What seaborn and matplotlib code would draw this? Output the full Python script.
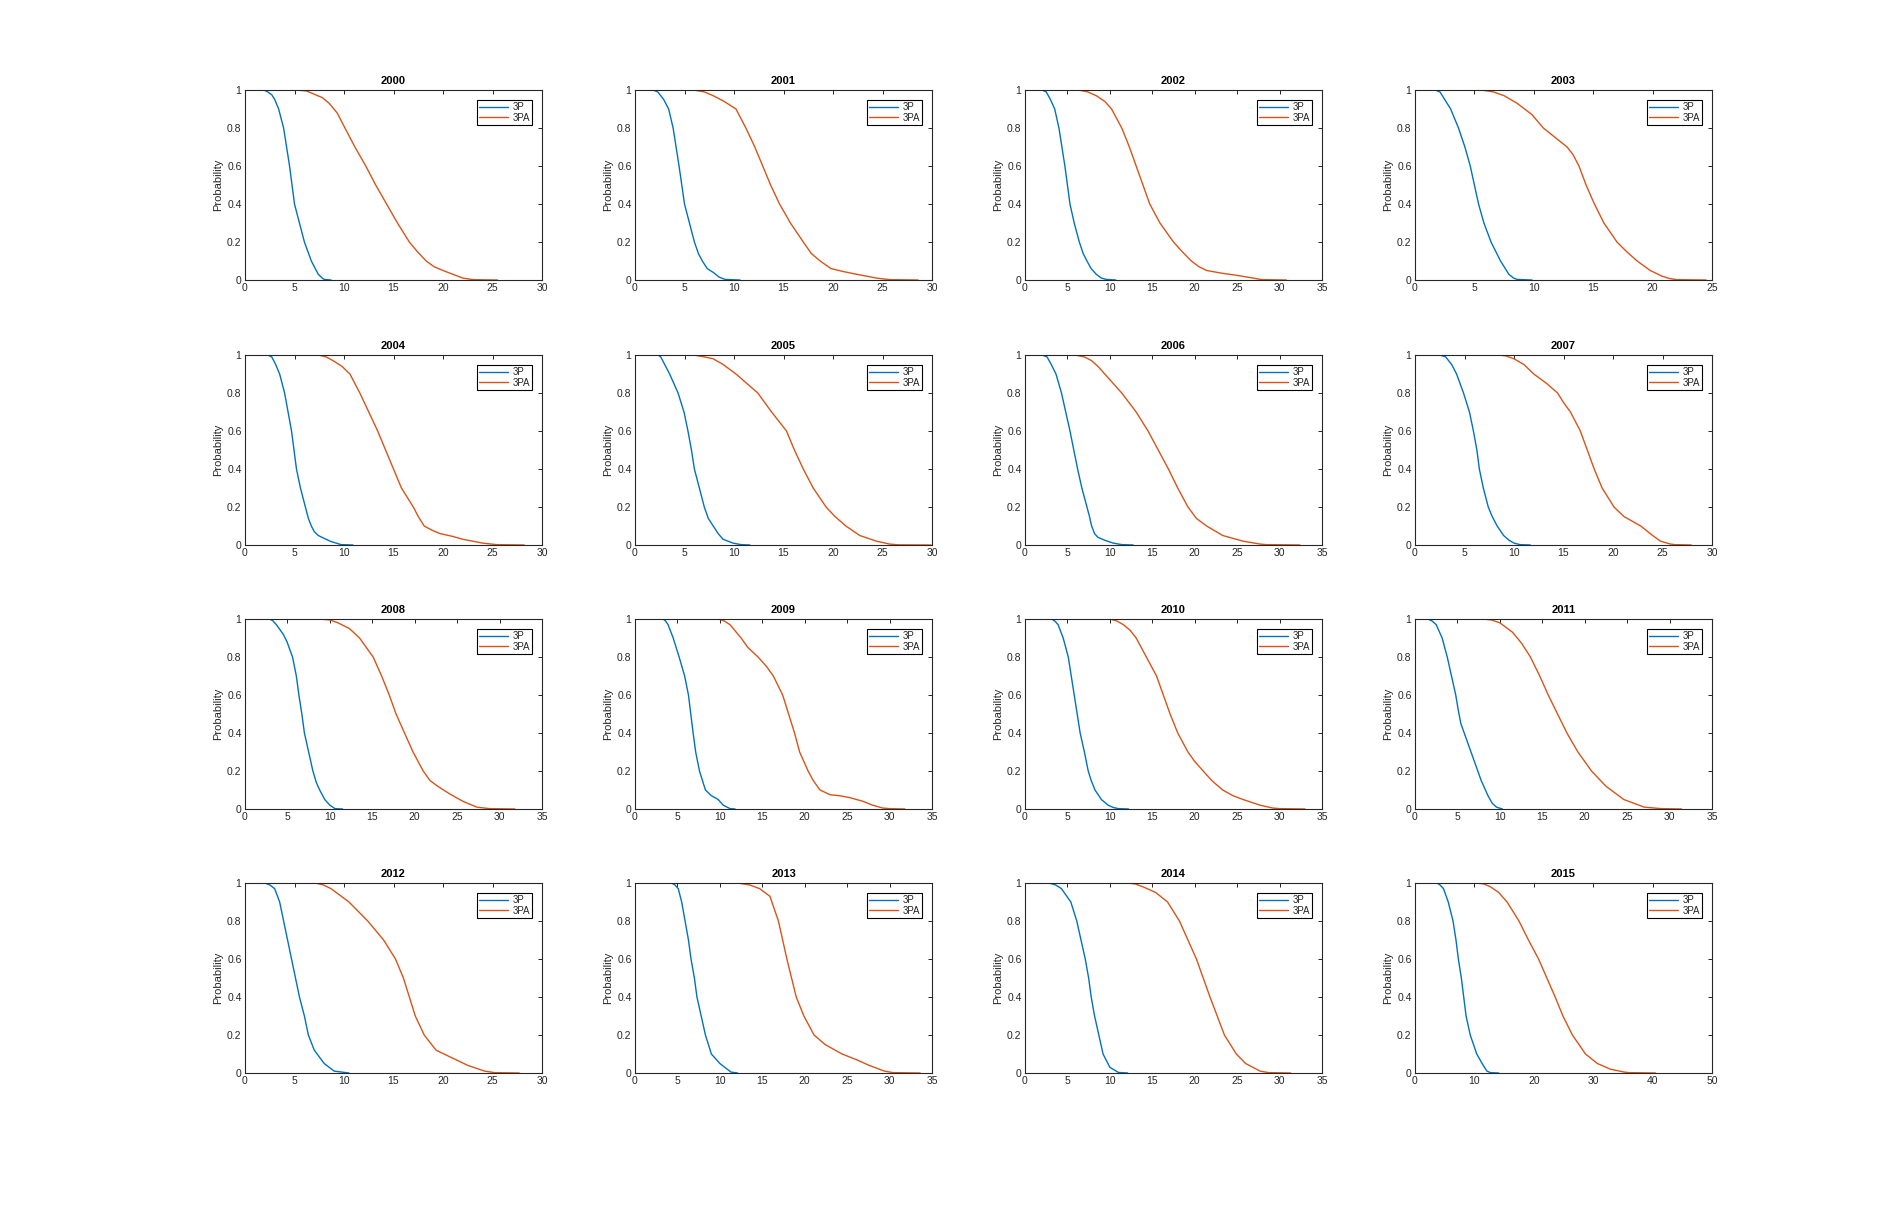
import matplotlib
matplotlib.use("Agg")
import matplotlib.pyplot as plt
import seaborn as sns
import pandas as pd

# ---------------- data ----------------
YEARS = list(range(2000, 2016))
XMAX = [30, 30, 35, 25, 30, 30, 35, 30, 35, 35, 35, 35, 30, 35, 35, 50]

P3_2000_X = [1.0, 1.9, 2.3, 2.7, 3.0, 3.4, 3.9, 4.2, 4.5, 5.0, 5.5, 6.0, 6.35, 6.7, 7.1, 7.4, 7.8, 8.0, 8.7]
P3_2000_Y = [1, 1, 0.99, 0.975, 0.95, 0.9, 0.8, 0.7, 0.6, 0.4, 0.3, 0.2, 0.15, 0.1, 0.06, 0.03, 0.01, 0.003, 0]
PA_2000_X = [2.6, 5.2, 6.2, 6.9, 7.8, 8.5, 9.3, 10.1, 11.1, 12.2, 13.2, 14.3, 15.4, 16.6, 17.4, 18.3, 19.1, 20.0, 21.0, 22.0, 23.0, 25.5]
PA_2000_Y = [1, 1, 0.995, 0.98, 0.96, 0.93, 0.88, 0.8, 0.7, 0.6, 0.5, 0.4, 0.3, 0.2, 0.15, 0.1, 0.07, 0.05, 0.03, 0.01, 0.002, 0]

P3_2001_X = [0.65, 1.8, 2.3, 2.9, 3.4, 3.85, 4.15, 4.45, 5.0, 5.5, 6.0, 6.4, 6.8, 7.3, 7.9, 8.5, 9.1, 10.6]
P3_2001_Y = [1, 1, 0.99, 0.95, 0.9, 0.8, 0.7, 0.6, 0.4, 0.3, 0.2, 0.14, 0.1, 0.06, 0.04, 0.015, 0.003, 0]
PA_2001_X = [3.3, 5.9, 7.0, 7.9, 9.0, 10.2, 11.2, 12.1, 12.9, 13.7, 14.6, 15.7, 17.0, 17.8, 18.7, 19.8, 21.0, 22.4, 24.4, 25.7, 28.6]
PA_2001_Y = [1, 1, 0.99, 0.97, 0.94, 0.9, 0.8, 0.7, 0.6, 0.5, 0.4, 0.3, 0.2, 0.14, 0.1, 0.06, 0.045, 0.03, 0.01, 0.002, 0]

P3_2002_X = [0.6, 2.0, 2.5, 3.0, 3.5, 4.0, 4.35, 4.7, 5.3, 5.8, 6.4, 6.85, 7.3, 7.8, 8.4, 9.0, 9.6, 10.7]
P3_2002_Y = [1, 1, 0.99, 0.95, 0.9, 0.8, 0.7, 0.6, 0.4, 0.3, 0.2, 0.14, 0.1, 0.06, 0.03, 0.01, 0.003, 0]
PA_2002_X = [4.1, 6.3, 7.4, 8.4, 9.4, 10.2, 11.4, 12.3, 13.1, 13.9, 14.7, 15.9, 17.5, 18.5, 19.6, 20.5, 21.4, 23.3, 24.9, 26.9, 27.9, 30.8]
PA_2002_Y = [1, 1, 0.99, 0.97, 0.94, 0.9, 0.8, 0.7, 0.6, 0.5, 0.4, 0.3, 0.2, 0.15, 0.1, 0.07, 0.05, 0.035, 0.025, 0.01, 0.002, 0]

P3_2003_X = [0.7, 1.7, 2.1, 2.5, 3.0, 3.66, 4.2, 4.65, 5.0, 5.35, 5.8, 6.4, 6.8, 7.2, 7.6, 7.9, 8.3, 8.6, 9.85]
P3_2003_Y = [1, 1, 0.99, 0.95, 0.9, 0.8, 0.7, 0.6, 0.5, 0.4, 0.3, 0.2, 0.15, 0.1, 0.06, 0.03, 0.01, 0.003, 0]
PA_2003_X = [3.6, 5.6, 6.6, 7.5, 8.6, 9.85, 10.8, 11.8, 12.8, 13.3, 13.8, 14.4, 15.1, 15.9, 17.0, 17.8, 18.7, 19.8, 20.8, 21.4, 22.0, 24.5]
PA_2003_Y = [1, 1, 0.99, 0.97, 0.93, 0.87, 0.8, 0.75, 0.7, 0.66, 0.6, 0.5, 0.4, 0.3, 0.2, 0.15, 0.1, 0.05, 0.02, 0.008, 0.002, 0]

P3_2004_X = [1.0, 2.3, 2.7, 3.1, 3.5, 4.0, 4.35, 4.7, 5.2, 5.6, 6.1, 6.4, 6.7, 7.0, 7.4, 8.0, 8.6, 9.7, 10.9]
P3_2004_Y = [1, 1, 0.99, 0.95, 0.9, 0.8, 0.7, 0.6, 0.4, 0.3, 0.2, 0.14, 0.1, 0.07, 0.05, 0.035, 0.02, 0.002, 0]
PA_2004_X = [4.85, 7.4, 8.2, 8.9, 9.8, 10.6, 11.6, 12.5, 13.4, 14.2, 15.0, 15.8, 17.0, 17.5, 18.1, 18.8, 19.7, 21.0, 22.0, 24.0, 25.4, 28.2]
PA_2004_Y = [1, 1, 0.99, 0.97, 0.94, 0.9, 0.8, 0.7, 0.6, 0.5, 0.4, 0.3, 0.2, 0.15, 0.1, 0.08, 0.06, 0.045, 0.03, 0.01, 0.002, 0]

P3_2005_X = [1.0, 2.3, 2.6, 3.0, 3.5, 4.35, 4.95, 5.35, 5.7, 6.0, 6.5, 7.0, 7.4, 7.9, 8.4, 8.9, 9.9, 10.7, 11.6]
P3_2005_Y = [1, 1, 0.99, 0.95, 0.9, 0.8, 0.7, 0.6, 0.5, 0.4, 0.3, 0.2, 0.14, 0.1, 0.06, 0.03, 0.01, 0.002, 0]
PA_2005_X = [3.0, 5.9, 7.0, 7.9, 8.9, 10.2, 11.3, 12.4, 13.8, 15.3, 16.1, 17.0, 18.0, 19.3, 20.2, 21.3, 22.7, 24.4, 25.7, 26.6, 29.9]
PA_2005_Y = [1, 1, 0.99, 0.98, 0.95, 0.9, 0.85, 0.8, 0.7, 0.6, 0.5, 0.4, 0.3, 0.2, 0.15, 0.1, 0.05, 0.02, 0.005, 0.001, 0]

P3_2006_X = [1.0, 2.0, 2.6, 3.1, 3.65, 4.3, 4.8, 5.3, 5.75, 6.2, 6.7, 7.3, 7.6, 7.85, 8.2, 8.6, 9.4, 10.4, 11.4, 12.75]
P3_2006_Y = [1, 1, 0.99, 0.95, 0.9, 0.8, 0.7, 0.6, 0.5, 0.4, 0.3, 0.2, 0.15, 0.1, 0.06, 0.04, 0.025, 0.01, 0.002, 0]
PA_2006_X = [2.9, 5.9, 7.0, 7.85, 8.6, 9.4, 10.4, 11.4, 13.1, 14.5, 15.7, 16.9, 18.0, 19.2, 20.2, 21.4, 23.3, 25.7, 27.7, 28.4, 32.4]
PA_2006_Y = [1, 1, 0.99, 0.97, 0.94, 0.9, 0.85, 0.8, 0.7, 0.6, 0.5, 0.4, 0.3, 0.2, 0.14, 0.1, 0.05, 0.02, 0.005, 0.002, 0]

P3_2007_X = [1.45, 2.5, 3.1, 3.7, 4.2, 4.9, 5.5, 5.9, 6.25, 6.5, 6.9, 7.4, 7.8, 8.3, 8.95, 9.5, 10.0, 10.6, 11.65]
P3_2007_Y = [1, 1, 0.99, 0.95, 0.9, 0.8, 0.7, 0.6, 0.5, 0.4, 0.3, 0.2, 0.15, 0.1, 0.05, 0.025, 0.01, 0.002, 0]
PA_2007_X = [6.1, 8.45, 9.2, 10.0, 11.0, 12.0, 13.3, 14.4, 15.0, 15.7, 16.7, 17.4, 18.1, 18.9, 20.1, 21.1, 22.8, 24.0, 24.8, 25.8, 26.2, 27.9]
PA_2007_Y = [1, 1, 0.995, 0.98, 0.95, 0.9, 0.85, 0.8, 0.75, 0.7, 0.6, 0.5, 0.4, 0.3, 0.2, 0.15, 0.1, 0.05, 0.02, 0.005, 0.002, 0]

P3_2008_X = [2.0, 2.9, 3.3, 3.7, 4.5, 4.95, 5.6, 6.05, 6.35, 6.7, 7.0, 7.5, 8.0, 8.4, 8.8, 9.4, 10.0, 10.6, 11.5]
P3_2008_Y = [1, 1, 0.99, 0.97, 0.92, 0.88, 0.8, 0.7, 0.6, 0.5, 0.4, 0.3, 0.2, 0.14, 0.1, 0.05, 0.02, 0.002, 0]
PA_2008_X = [6.4, 8.8, 10.0, 10.95, 12.3, 13.5, 14.3, 15.1, 16.1, 17.0, 17.8, 18.8, 19.8, 21.0, 21.8, 22.7, 24.1, 25.7, 27.3, 28.8, 31.8]
PA_2008_Y = [1, 1, 0.995, 0.98, 0.95, 0.9, 0.85, 0.8, 0.7, 0.6, 0.5, 0.4, 0.3, 0.2, 0.15, 0.12, 0.08, 0.04, 0.01, 0.002, 0]

P3_2009_X = [2.3, 3.3, 3.6, 3.9, 4.5, 5.2, 5.85, 6.3, 6.85, 7.15, 7.6, 8.3, 9.0, 9.8, 10.4, 11.2, 11.8]
P3_2009_Y = [1, 1, 0.99, 0.97, 0.9, 0.8, 0.7, 0.6, 0.4, 0.3, 0.2, 0.1, 0.07, 0.05, 0.02, 0.002, 0]
PA_2009_X = [7.6, 9.8, 10.5, 11.2, 12.5, 13.3, 14.5, 15.5, 16.3, 17.4, 18.1, 18.8, 19.4, 20.4, 21.0, 21.8, 23.0, 24.1, 25.3, 26.9, 28.0, 29.2, 30.0, 31.8]
PA_2009_Y = [1, 1, 0.99, 0.97, 0.9, 0.85, 0.8, 0.75, 0.7, 0.6, 0.5, 0.4, 0.3, 0.2, 0.15, 0.1, 0.075, 0.07, 0.06, 0.04, 0.02, 0.005, 0.002, 0]

P3_2010_X = [2.15, 3.1, 3.5, 3.9, 4.5, 5.1, 5.45, 5.8, 6.15, 6.5, 7.0, 7.45, 7.8, 8.25, 9.0, 9.8, 10.4, 11.0, 12.2]
P3_2010_Y = [1, 1, 0.99, 0.97, 0.9, 0.8, 0.7, 0.6, 0.5, 0.4, 0.3, 0.2, 0.15, 0.1, 0.05, 0.02, 0.008, 0.002, 0]
PA_2010_X = [6.7, 10.0, 10.8, 11.6, 12.4, 13.1, 14.3, 15.5, 16.3, 17.1, 18.0, 19.2, 20.0, 21.0, 22.0, 23.3, 24.5, 25.7, 27.7, 29.2, 30.0, 33.0]
PA_2010_Y = [1, 1, 0.99, 0.97, 0.94, 0.9, 0.8, 0.7, 0.6, 0.5, 0.4, 0.3, 0.25, 0.2, 0.15, 0.1, 0.07, 0.05, 0.02, 0.005, 0.002, 0]

P3_2011_X = [0.3, 1.5, 2.0, 2.5, 3.2, 3.8, 4.3, 4.8, 5.1, 5.4, 6.2, 7.0, 7.8, 8.6, 9.1, 9.6, 10.3]
P3_2011_Y = [1, 1, 0.99, 0.97, 0.9, 0.8, 0.7, 0.6, 0.52, 0.45, 0.35, 0.25, 0.15, 0.07, 0.03, 0.01, 0]
PA_2011_X = [5.7, 8.0, 9.0, 10.0, 11.5, 12.6, 13.6, 14.7, 15.7, 16.8, 17.9, 19.2, 20.8, 22.5, 24.6, 27.0, 29.0, 31.4]
PA_2011_Y = [1, 1, 0.995, 0.98, 0.93, 0.87, 0.8, 0.7, 0.6, 0.5, 0.4, 0.3, 0.2, 0.12, 0.05, 0.01, 0.002, 0]

P3_2012_X = [1.0, 2.0, 2.5, 3.0, 3.5, 3.9, 4.3, 4.7, 5.1, 5.5, 6.0, 6.4, 7.0, 8.0, 9.0, 10.5]
P3_2012_Y = [1, 1, 0.99, 0.97, 0.9, 0.8, 0.7, 0.6, 0.5, 0.4, 0.3, 0.2, 0.12, 0.05, 0.01, 0]
PA_2012_X = [4.8, 7.1, 7.9, 8.7, 10.5, 12.4, 14.0, 15.2, 16.0, 16.6, 17.2, 18.1, 19.3, 20.9, 22.5, 24.2, 25.2, 27.7]
PA_2012_Y = [1, 1, 0.99, 0.97, 0.9, 0.8, 0.7, 0.6, 0.5, 0.4, 0.3, 0.2, 0.12, 0.08, 0.04, 0.01, 0.002, 0]

P3_2013_X = [2.6, 4.3, 4.7, 5.1, 5.5, 5.9, 6.3, 6.6, 7.0, 7.3, 7.8, 8.3, 9.0, 10.0, 11.3, 12.1]
P3_2013_Y = [1, 1, 0.99, 0.97, 0.9, 0.8, 0.7, 0.6, 0.5, 0.4, 0.3, 0.2, 0.1, 0.05, 0.005, 0]
PA_2013_X = [9.6, 12.1, 13.5, 14.7, 15.9, 16.9, 17.9, 19.0, 19.9, 21.1, 22.4, 24.4, 26.1, 27.6, 29.4, 30.4, 33.6]
PA_2013_Y = [1, 1, 0.99, 0.97, 0.93, 0.8, 0.6, 0.4, 0.3, 0.2, 0.15, 0.1, 0.07, 0.04, 0.01, 0.002, 0]

P3_2014_X = [0.3, 2.8, 3.6, 4.3, 5.4, 6.1, 6.6, 7.1, 7.5, 7.8, 8.2, 8.7, 9.2, 10.0, 11.0, 12.1]
P3_2014_Y = [1, 1, 0.99, 0.97, 0.9, 0.8, 0.7, 0.6, 0.5, 0.4, 0.3, 0.2, 0.1, 0.03, 0.003, 0]
PA_2014_X = [7.8, 12.1, 13.0, 13.9, 15.4, 16.8, 18.2, 19.2, 20.2, 21.8, 23.5, 24.9, 26.0, 27.7, 28.7, 31.3]
PA_2014_Y = [1, 1, 0.995, 0.98, 0.95, 0.9, 0.8, 0.7, 0.6, 0.4, 0.2, 0.1, 0.05, 0.01, 0.002, 0]

P3_2015_X = [2.4, 3.7, 4.2, 4.8, 5.6, 6.4, 6.9, 7.3, 7.8, 8.2, 8.6, 9.3, 10.4, 11.3, 12.1, 12.7, 14.1]
P3_2015_Y = [1, 1, 0.99, 0.97, 0.9, 0.8, 0.7, 0.6, 0.5, 0.4, 0.3, 0.2, 0.1, 0.05, 0.01, 0.002, 0]
PA_2015_X = [6.9, 10.4, 11.6, 12.7, 14.1, 15.5, 17.5, 19.1, 20.8, 22.2, 23.6, 24.9, 26.5, 28.7, 30.7, 32.9, 35.2, 36.0, 40.5]
PA_2015_Y = [1, 1, 0.995, 0.98, 0.95, 0.9, 0.8, 0.7, 0.6, 0.5, 0.4, 0.3, 0.2, 0.1, 0.05, 0.02, 0.005, 0.002, 0]

SERIES_LABELS = ["3P", "3PA"]
Y_TICKS = [0, 0.2, 0.4, 0.6, 0.8, 1]
Y_TICKLABELS = ["0", "0.2", "0.4", "0.6", "0.8", "1"]

g = globals()
CURVES = {y: ((g[f"P3_{y}_X"], g[f"P3_{y}_Y"]), (g[f"PA_{y}_X"], g[f"PA_{y}_Y"])) for y in YEARS}

# ---------------- style ----------------
sns.set_theme(style="white")
plt.rcParams["font.family"] = ["Liberation Sans", "DejaVu Sans"]
DARK = "#262626"
COLORS = ["#0072BD", "#D95319"]

W, H = 1891, 1206
fig = plt.figure(figsize=(W / 100, H / 100), dpi=100)
fig.patch.set_facecolor("white")

col_left = [245, 635, 1025, 1415]
row_top = [90, 355, 619, 883]
ax_w, ax_h = 297, 190

for i, year in enumerate(YEARS):
    r, c = divmod(i, 4)
    l = col_left[c] / W
    b = 1 - (row_top[r] + ax_h) / H
    ax = fig.add_axes([l, b, ax_w / W, ax_h / H])
    for (xs, ys), lab, col in zip(CURVES[year], SERIES_LABELS, COLORS):
        df = pd.DataFrame({"x": xs, "y": ys})
        sns.lineplot(data=df, x="x", y="y", ax=ax, color=col, linewidth=1.0,
                     label=lab, sort=False, estimator=None)
    xmax = XMAX[i]
    step = 10 if xmax >= 50 else 5
    ax.set_xlim(0, xmax)
    ax.set_ylim(0, 1)
    ax.set_xticks(list(range(0, xmax + 1, step)))
    ax.set_xticklabels([str(v) for v in range(0, xmax + 1, step)])
    ax.set_yticks(Y_TICKS)
    ax.set_yticklabels(Y_TICKLABELS)
    ax.set_xlabel("")
    ax.set_ylabel("Probability", fontsize=8, color=DARK, labelpad=3)
    ax.set_title(str(year), fontsize=8, fontweight="bold", color="black", pad=4)
    ax.tick_params(axis="both", which="both", direction="in", length=3, width=0.7,
                   colors=DARK, labelsize=7.5, top=True, right=True, pad=2.5,
                   labelcolor=DARK)
    for s in ax.spines.values():
        s.set_visible(True)
        s.set_color(DARK)
        s.set_linewidth(0.8)
    ax.grid(False)
    leg = ax.legend(loc="upper right", fontsize=7, frameon=True, fancybox=False,
                    borderpad=0.25, labelspacing=0.05, handlelength=3.0,
                    handletextpad=0.4, borderaxespad=1.0)
    leg.get_frame().set_edgecolor("black")
    leg.get_frame().set_linewidth(0.8)
    leg.get_frame().set_alpha(1)
    for t in leg.get_texts():
        t.set_color(DARK)

fig.savefig("out.png", dpi=100, facecolor="white")
